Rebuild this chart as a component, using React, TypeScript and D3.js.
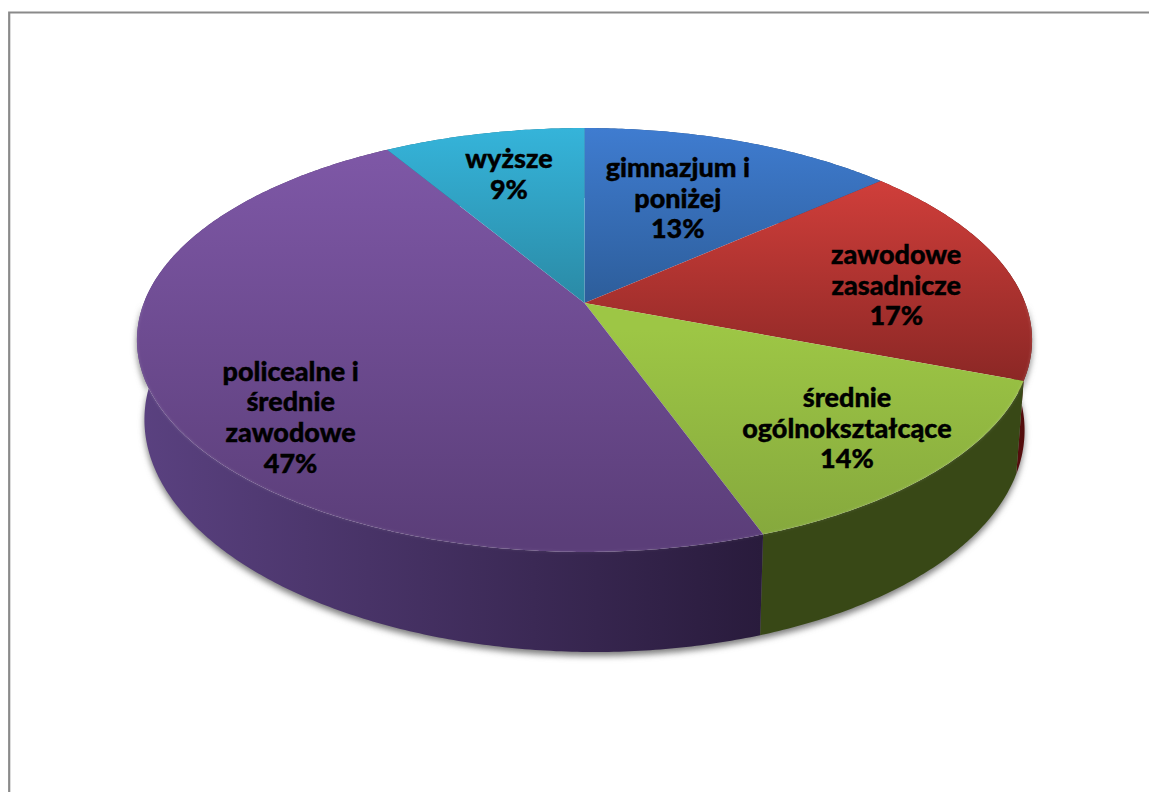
import React, { useEffect, useRef } from "react";
import * as d3 from "d3";

const categories = [
  ["gimnazjum i", "poniżej"],
  ["zawodowe", "zasadnicze"],
  ["średnie", "ogólnokształcące"],
  ["policealne i", "średnie", "zawodowe"],
  ["wyższe"],
];
const shares = [13.49, 17.3, 13.71, 46.9, 8.6];
const topColors = [
  ["#3f7cd0", "#2c5c98"],
  ["#cf3e3a", "#8b2725"],
  ["#9dc645", "#85a83d"],
  ["#8059a9", "#5b3e79"],
  ["#35b4da", "#2a88a3"],
];
const sideColors = [
  ["#23497a", "#23497a"],
  ["#6e1412", "#520c0c"],
  ["#3b4d19", "#384816"],
  ["#5a4180", "#291b3c"],
  ["#1c6f88", "#1c6f88"],
];
const labelNudges = [
  [-9, 1.5],
  [48, 5],
  [55, 27],
  [-35, 57.5],
  [-9.5, -17],
];

const W = 1149;
const H = 792;
const cx = 584.5;
const apexY = 303;
// perspective of the tilted disc
const k = 0.1745;
const a = 440.7;
const b = 205.5;

function project(theta: number, r = 1): [number, number] {
  const u = r * Math.sin(theta);
  const v = r * Math.cos(theta);
  const w = 1 + k * v;
  return [cx + (a * u) / w, apexY - (b * v) / w];
}

// lower rim is not just the top rim moved down, the camera sees it rounder
function projectLower(theta: number): [number, number] {
  const [x, y] = project(theta);
  const lx = (x - cx) * (440 / 447.5);
  return [cx + lx, 425 + (y - 340) * (227 / 212) + 0.012 * lx];
}

function sampleAngles(start: number, end: number) {
  const n = Math.max(2, Math.ceil((end - start) / 0.01));
  return d3.range(n + 1).map(i => start + ((end - start) * i) / n);
}

export default function App() {
  const ref: React.MutableRefObject<SVGSVGElement | null> = useRef(null);

  useEffect(() => {
    const svg = d3.select(ref.current);
    svg.selectAll("*").remove();

    const arcs = d3
      .pie<number>()
      .value(d => d)
      .sort(null)(shares);
    const line = d3.line();

    const defs = svg.append("defs");
    const blur = defs
      .append("filter")
      .attr("id", "shadow")
      .attr("x", "-10%")
      .attr("y", "-10%")
      .attr("width", "120%")
      .attr("height", "130%");
    blur.append("feGaussianBlur").attr("stdDeviation", 3);
    const soft = defs
      .append("filter")
      .attr("id", "soft")
      .attr("x", "-5%")
      .attr("y", "-5%")
      .attr("width", "110%")
      .attr("height", "110%");
    soft.append("feGaussianBlur").attr("stdDeviation", 0.8);

    const rimFade = defs
      .append("linearGradient")
      .attr("id", "rim")
      .attr("gradientUnits", "userSpaceOnUse")
      .attr("x1", 137)
      .attr("x2", 1030)
      .attr("y1", 0)
      .attr("y2", 0);
    rimFade.append("stop").attr("offset", 0).attr("stop-color", "#fff").attr("stop-opacity", 0.12);
    rimFade.append("stop").attr("offset", 0.6).attr("stop-color", "#fff").attr("stop-opacity", 0.06);
    rimFade.append("stop").attr("offset", 1).attr("stop-color", "#fff").attr("stop-opacity", 0.14);

    arcs.forEach((d, i) => {
      const top = defs
        .append("linearGradient")
        .attr("id", `top${i}`)
        .attr("gradientUnits", "userSpaceOnUse")
        .attr("x1", 0)
        .attr("x2", 0)
        .attr("y1", i === 1 ? 183 : i === 2 ? 330 : 128)
        .attr("y2", i === 1 ? 382 : i === 2 ? 540 : i === 0 || i === 4 ? 310 : 540);
      top.append("stop").attr("offset", 0).attr("stop-color", topColors[i][0]);
      top.append("stop").attr("offset", 1).attr("stop-color", topColors[i][1]);

      const side = defs
        .append("linearGradient")
        .attr("id", `side${i}`)
        .attr("gradientUnits", "userSpaceOnUse")
        .attr("x1", project(d.endAngle)[0] < project(d.startAngle)[0] ? 140 : project(d.startAngle)[0])
        .attr("x2", project(d.endAngle)[0] < project(d.startAngle)[0] ? 762 : 1030)
        .attr("y1", 0)
        .attr("y2", 0);
      side.append("stop").attr("offset", 0).attr("stop-color", sideColors[i][0]);
      side.append("stop").attr("offset", 1).attr("stop-color", sideColors[i][1]);
    });

    // page frame, open to the right and bottom
    svg
      .append("path")
      .attr("d", `M${W},12.5H9.2V${H}`)
      .attr("fill", "none")
      .attr("stroke", "#8a8a8a")
      .attr("stroke-width", 2.2);

    const sweep = sampleAngles(Math.PI / 2, (3 * Math.PI) / 2);
    const outline = [...sweep.map(projectLower), ...sweep.slice().reverse().map(t => project(t))];

    svg
      .append("path")
      .attr("d", line(outline.map(p => [p[0], p[1] + 4])))
      .attr("fill", "#7d7d7d")
      .attr("filter", "url(#shadow)");

    // side walls, then the top face over them
    svg
      .append("g")
      .selectAll("path")
      .data(arcs)
      .join("path")
      .attr("d", d => {
        const ts = sampleAngles(d.startAngle, d.endAngle);
        return line([...ts.map(t => project(t)), ...ts.slice().reverse().map(projectLower)]) + "Z";
      })
      .attr("fill", (d, i) => `url(#side${i})`);

    svg
      .append("g")
      .selectAll("path")
      .data(arcs)
      .join("path")
      .attr("d", d => {
        const ts = sampleAngles(d.startAngle, d.endAngle);
        return line([[cx, apexY], ...ts.map(t => project(t))]) + "Z";
      })
      .attr("fill", (d, i) => `url(#top${i})`);

    // light bevel along the front edge
    svg
      .append("path")
      .attr("d", line(sweep.map(t => project(t))))
      .attr("fill", "none")
      .attr("stroke", "url(#rim)")
      .attr("stroke-width", 1.5)
      .attr("filter", "url(#soft)");

    const lineGap = 30.7;
    const labels = svg
      .append("g")
      .attr("font-family", "Lato, sans-serif")
      .attr("font-weight", 900)
      .attr("font-size", 27)
      .attr("fill", "#000")
      .attr("stroke", "#000")
      .attr("stroke-width", 0.4)
      .attr("text-anchor", "middle");

    arcs.forEach((d, i) => {
      const [x, y] = project((d.startAngle + d.endAngle) / 2, 0.62);
      const lines = [...categories[i], `${Math.round(shares[i])}%`];
      const first = y + labelNudges[i][1] + 9 - ((lines.length - 1) * lineGap) / 2;
      lines.forEach((s, j) => {
        labels
          .append("text")
          .attr("x", x + labelNudges[i][0])
          .attr("y", first + j * lineGap)
          .text(s);
      });
    });
  }, []);

  return (
    <svg
      ref={ref}
      width={W}
      height={H}
      style={{ position: "absolute", left: 0, top: 0, display: "block", background: "#fff" }}
    />
  );
}
